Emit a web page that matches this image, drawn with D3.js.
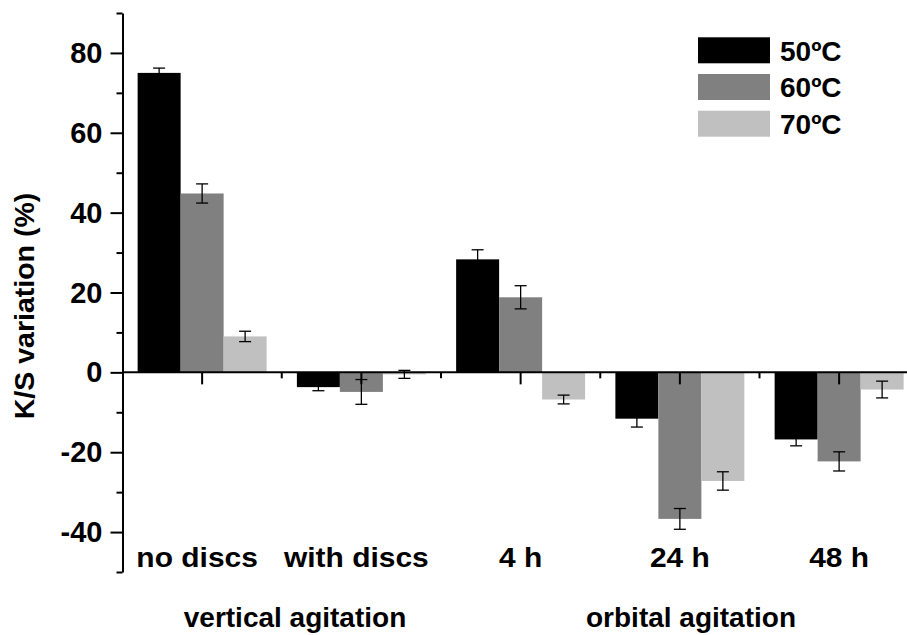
<!DOCTYPE html>
<html>
<head>
<meta charset="utf-8">
<script src="https://cdn.jsdelivr.net/npm/d3@7"></script>
<style>
  html, body { margin: 0; padding: 0; background: #fff; }
  svg { display: block; }
  text { font-family: "Liberation Sans", Arial, sans-serif; font-weight: bold; fill: #000; }
</style>
</head>
<body>
<svg id="chart" width="907" height="635"></svg>
<script>
// Treatment conditions along the x axis
const categories = ["no discs", "with discs", "4 h", "24 h", "48 h"];
// Dyeing temperatures (one bar per temperature)
const seriesNames = ["50ºC", "60ºC", "70ºC"];
const seriesColors = ["#000000", "#808080", "#c0c0c0"];
// K/S variation (%) per temperature, and standard deviation
const values50 = [75.0, -3.7, 28.3, -11.6, -16.8];
const errors50 = [1.2, 0.9, 2.4, 2.1, 1.6];
const values60 = [44.8, -4.9, 18.8, -36.7, -22.3];
const errors60 = [2.4, 3.1, 2.9, 2.6, 2.4];
const values70 = [9.0, -0.5, -6.8, -27.2, -4.3];
const errors70 = [1.3, 1.0, 1.1, 2.3, 2.1];
// Axis ticks
const majorTicks = [-40, -20, 0, 20, 40, 60, 80];
const minorTicks = [-50, -30, -10, 10, 30, 50, 70, 90];
// Agitation groups under the category labels
const groupLabels = ["vertical agitation", "orbital agitation"];

const seriesValues = [values50, values60, values70];
const seriesErrors = [errors50, errors60, errors70];

const svg = d3.select("#chart");

const y = d3.scaleLinear().domain([-50, 90]).range([572, 13]);
const x0 = d3.scaleBand().domain(categories).range([122.5, 918.75]).padding(0);
const x1 = d3.scaleBand().domain(seriesNames)
  .range([x0.bandwidth() * 0.095, x0.bandwidth() * 0.905]).padding(0);

const rows = [];
categories.forEach((c, i) => {
  seriesNames.forEach((s, j) => {
    rows.push({ cat: c, series: s, color: seriesColors[j],
      value: seriesValues[j][i], err: seriesErrors[j][i] });
  });
});

// Bars
svg.append("g").selectAll("rect").data(rows).join("rect")
  .attr("x", d => x0(d.cat) + x1(d.series))
  .attr("width", x1.bandwidth())
  .attr("y", d => y(Math.max(0, d.value)))
  .attr("height", d => Math.abs(y(d.value) - y(0)))
  .attr("fill", d => d.color);

// Error bars
const capHalf = 6;
const eb = svg.append("g").attr("stroke", "#000").attr("stroke-width", 1.3).attr("fill", "none");
rows.forEach(d => {
  const cx = x0(d.cat) + x1(d.series) + x1.bandwidth() / 2;
  const yt = y(d.value + d.err), yb = y(d.value - d.err);
  eb.append("line").attr("x1", cx).attr("x2", cx).attr("y1", yt).attr("y2", yb);
  eb.append("line").attr("x1", cx - capHalf).attr("x2", cx + capHalf).attr("y1", yt).attr("y2", yt);
  eb.append("line").attr("x1", cx - capHalf).attr("x2", cx + capHalf).attr("y1", yb).attr("y2", yb);
});

// Y axis: major ticks with labels, minor ticks without
const axisX = 122.5;
const yAxisMajor = d3.axisLeft(y).tickValues(majorTicks).tickSize(12).tickSizeOuter(0)
  .tickFormat(d => String(d));
const gy = svg.append("g").attr("transform", `translate(${axisX},0)`).call(yAxisMajor);
gy.select(".domain").attr("stroke", "#000").attr("stroke-width", 2);
gy.selectAll(".tick line").attr("stroke", "#000").attr("stroke-width", 2);
gy.selectAll(".tick text")
  .attr("x", -20).attr("dy", null).attr("y", 9.5)
  .style("font-size", "29px").style("font-family", "'Liberation Sans', Arial, sans-serif")
  .style("font-weight", "bold").attr("fill", "#000");

const yAxisMinor = d3.axisLeft(y).tickValues(minorTicks).tickSize(6).tickSizeOuter(0).tickFormat("");
const gym = svg.append("g").attr("transform", `translate(${axisX},0)`).call(yAxisMinor);
gym.select(".domain").remove();
gym.selectAll(".tick line").attr("stroke", "#000").attr("stroke-width", 2);

// X axis at zero: long ticks at category centres, short ticks between
const xCenters = d3.scalePoint().domain(categories).range([x0(categories[0]) + x0.bandwidth() / 2,
  x0(categories[categories.length - 1]) + x0.bandwidth() / 2]);
const gx = svg.append("g").attr("transform", `translate(0,${y(0)})`);
gx.append("line").attr("x1", axisX).attr("x2", 907).attr("y1", 0).attr("y2", 0)
  .attr("stroke", "#000").attr("stroke-width", 2);
gx.selectAll("line.major").data(categories).join("line").attr("class", "major")
  .attr("x1", d => xCenters(d)).attr("x2", d => xCenters(d))
  .attr("y1", 0).attr("y2", 12).attr("stroke", "#000").attr("stroke-width", 2);
gx.selectAll("line.minor").data(categories.slice(1)).join("line").attr("class", "minor")
  .attr("x1", d => x0(d)).attr("x2", d => x0(d))
  .attr("y1", 0).attr("y2", 6).attr("stroke", "#000").attr("stroke-width", 2);

// Category labels near the bottom of the plot (slightly widened lettering)
svg.append("g").selectAll("text").data(categories).join("text")
  .attr("transform", d => `translate(${xCenters(d) - (d === "no discs" || d === "with discs" ? 5 : 0)},566.5) scale(1.07,1)`)
  .attr("text-anchor", "middle")
  .style("font-size", "28px")
  .text(d => d);

// Group labels
const groupCenters = [295, 691];
svg.append("g").selectAll("text").data(groupLabels).join("text")
  .attr("x", (d, i) => groupCenters[i])
  .attr("y", 627)
  .attr("text-anchor", "middle")
  .style("font-size", "28px")
  .text(d => d);

// Y axis title
svg.append("text")
  .attr("transform", "translate(34,306) rotate(-90)")
  .attr("text-anchor", "middle")
  .style("font-size", "28.5px")
  .text("K/S variation (%)");

// Legend
const legend = svg.append("g");
seriesNames.forEach((s, i) => {
  const top = 37.3 + i * 36.7;
  legend.append("rect").attr("x", 698).attr("y", top).attr("width", 72).attr("height", 26)
    .attr("fill", seriesColors[i]);
  legend.append("text").attr("x", 780).attr("y", top + 23.4)
    .style("font-size", "28px").text(s);
});
</script>
</body>
</html>
